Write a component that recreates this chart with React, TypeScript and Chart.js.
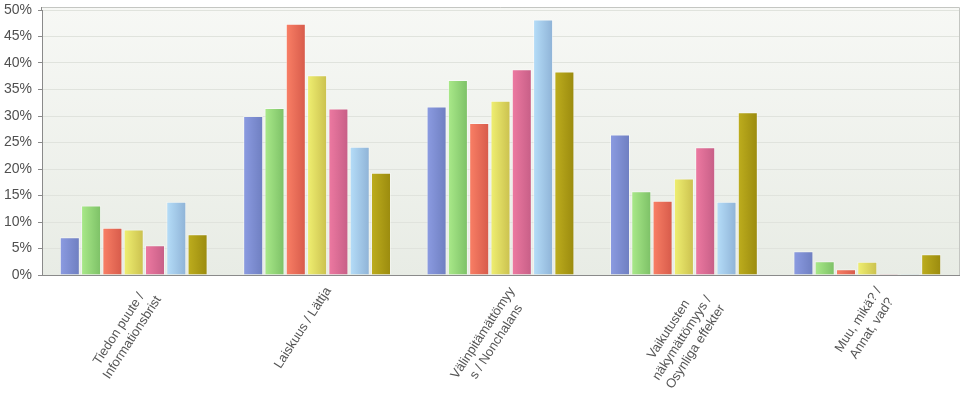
import React, { useEffect, useRef } from 'react';
import { Chart, registerables } from 'chart.js';

Chart.register(...registerables);

// ---- Data ----
const categories: string[][] = [
  ['Tiedon puute /', 'Informationsbrist'],
  ['Laiskuus / Lättja'],
  ['Välinpitämättömyy', 's / Nonchalans'],
  ['Vaikutusten', 'näkymättömyys /', 'Osynliga effekter'],
  ['Muu, mikä? /', 'Annat, vad?'],
];

const seriesBlue = [7.1, 30.0, 31.8, 26.5, 4.5];
const seriesGreen = [13.1, 31.5, 36.8, 15.8, 2.6];
const seriesRed = [8.9, 47.4, 28.7, 14.0, 1.1];
const seriesYellow = [8.6, 37.7, 32.9, 18.2, 2.5];
const seriesPink = [5.6, 31.4, 38.8, 24.1, 0];
const seriesLightBlue = [13.8, 24.2, 48.2, 13.8, 0];
const seriesOlive = [7.7, 19.3, 38.4, 30.7, 3.9];

const seriesNames = ['Sarja 1', 'Sarja 2', 'Sarja 3', 'Sarja 4', 'Sarja 5', 'Sarja 6', 'Sarja 7'];
const seriesValues = [seriesBlue, seriesGreen, seriesRed, seriesYellow, seriesPink, seriesLightBlue, seriesOlive];

const yMin = 0;
const yMax = 50;
const yStep = 5;

// ---- Styles ----
const lightColors = ['#8c9ce2', '#aaea8a', '#fa8066', '#f0f072', '#ee7aa2', '#b6def9', '#beae1e'];
const darkColors = ['#6e7ec0', '#7cc066', '#d65a4a', '#cac04e', '#c65e86', '#8eb2d6', '#9a8a0e'];
const FONT = '"Liberation Sans", Arial, sans-serif';

const bgPlugin = {
  id: 'bgPlugin',
  beforeDraw(chart: any) {
    const { ctx, chartArea } = chart;
    const top = chartArea.top - 3;
    ctx.save();
    const g = ctx.createLinearGradient(0, top, 0, chartArea.bottom);
    g.addColorStop(0, '#f7f8f5');
    g.addColorStop(1, '#e8ece5');
    ctx.fillStyle = g;
    ctx.fillRect(chartArea.left, top, chartArea.right - chartArea.left, chartArea.bottom - top);
    ctx.restore();
  },
  beforeDatasetsDraw(chart: any) {
    const ctx = chart.ctx;
    chart.data.datasets.forEach((_ds: any, di: number) => {
      const meta = chart.getDatasetMeta(di);
      meta.data.forEach((el: any) => {
        const p = el.getProps(['x', 'width'], true);
        const g = ctx.createLinearGradient(p.x - p.width / 2, 0, p.x + p.width / 2, 0);
        g.addColorStop(0, lightColors[di]);
        g.addColorStop(1, darkColors[di]);
        el.options = { ...el.options, backgroundColor: g };
      });
    });
  },
  afterDraw(chart: any) {
    const { ctx, chartArea } = chart;
    ctx.save();
    // frame top & right
    ctx.strokeStyle = '#c4c6c2';
    ctx.lineWidth = 1;
    ctx.beginPath();
    ctx.moveTo(chartArea.left, chartArea.top - 2.5);
    ctx.lineTo(chartArea.right + 0.5, chartArea.top - 2.5);
    ctx.lineTo(chartArea.right + 0.5, chartArea.bottom);
    ctx.stroke();
    ctx.beginPath();
    ctx.strokeStyle = '#8a8a8a';
    ctx.moveTo(chartArea.left - 0.5, chartArea.top - 3);
    ctx.lineTo(chartArea.left - 0.5, chartArea.top);
    ctx.stroke();

    // category labels, rotated with centered lines
    const xs = chart.scales.x;
    ctx.font = '13px ' + FONT;
    ctx.fillStyle = '#555555';
    ctx.textBaseline = 'top';
    ctx.textAlign = 'center';
    const ang = (-57 * Math.PI) / 180;
    categories.forEach((lines, i) => {
      const x = xs.getPixelForValue(i);
      const y = xs.top + 10;
      const W = Math.max(...lines.map((l) => ctx.measureText(l).width));
      ctx.save();
      ctx.translate(x + 6, y);
      ctx.rotate(ang);
      lines.forEach((l, j) => ctx.fillText(l, -W / 2, j * 16));
      ctx.restore();
    });
    ctx.restore();
  },
};

export default function App() {
  const ref = useRef<HTMLCanvasElement | null>(null);

  useEffect(() => {
    if (!ref.current) return;
    const chart = new Chart(ref.current, {
      type: 'bar',
      data: {
        labels: categories.map((c) => c.join(' ')),
        datasets: seriesValues.map((vals, i) => ({
          label: seriesNames[i],
          data: vals,
          backgroundColor: darkColors[i],
          borderColor: 'rgba(255,255,255,0.45)',
          borderWidth: 1,
          minBarLength: 1,
          categoryPercentage: 0.813,
          barPercentage: 0.94,
        })),
      },
      options: {
        responsive: false,
        animation: false,
        layout: { padding: { top: 10, right: 5, left: 0, bottom: 0 } },
        plugins: {
          legend: { display: false },
          tooltip: { enabled: false },
          title: { display: false },
        },
        scales: {
          x: {
            grid: { display: false },
            border: { display: true, color: '#8a8a8a', width: 1 },
            ticks: { display: false },
            afterFit: (scale: any) => {
              scale.height = 136;
              scale.paddingLeft = 0;
              scale.paddingRight = 0;
            },
          },
          y: {
            min: yMin,
            max: yMax,
            grid: {
              color: '#e0e3dd',
              tickColor: '#8a8a8a',
              tickLength: 4,
              drawTicks: true,
            },
            border: { display: true, color: '#8a8a8a', width: 1 },
            ticks: {
              stepSize: yStep,
              padding: 6,
              color: '#505050',
              font: { family: FONT, size: 14 },
              callback: (v: any) => v + '%',
            },
            afterFit: (scale: any) => {
              scale.width = 42;
              scale.paddingTop = 0;
              scale.paddingBottom = 0;
            },
          },
        },
      },
      plugins: [bgPlugin],
    });
    return () => chart.destroy();
  }, []);

  return (
    <div style={{ position: 'absolute', left: 0, top: 0, width: 964, height: 411, background: '#fff' }}>
      <canvas ref={ref} width={964} height={411} style={{ width: 964, height: 411, display: 'block' }} />
    </div>
  );
}
